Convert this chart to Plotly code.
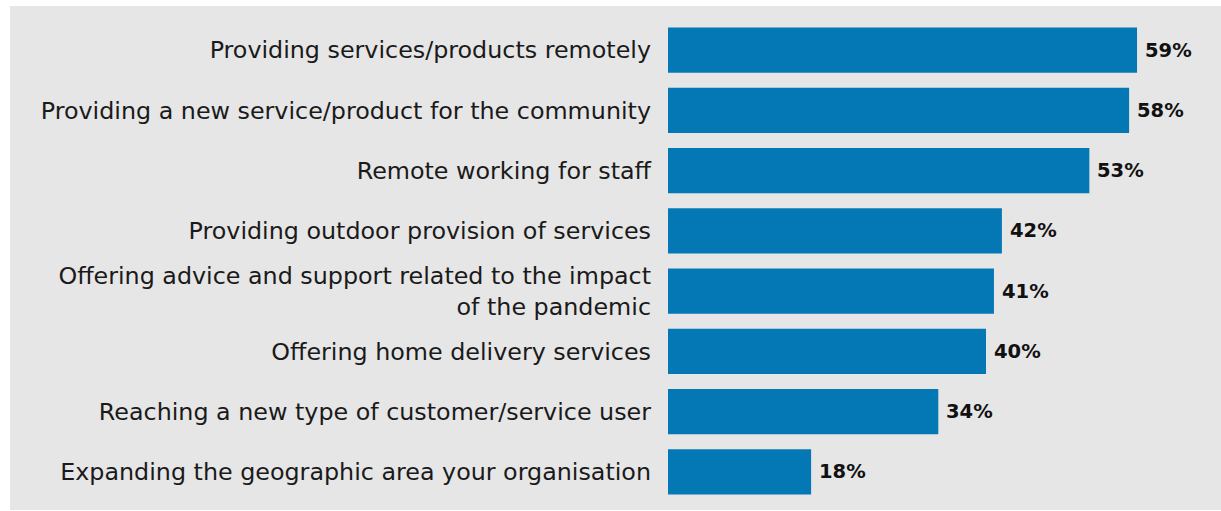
import plotly.graph_objects as go

categories = [
    "Providing services/products remotely",
    "Providing a new service/product for the community",
    "Remote working for staff",
    "Providing outdoor provision of services",
    "Offering advice and support related to the impact<br>of the pandemic",
    "Offering home delivery services",
    "Reaching a new type of customer/service user",
    "Expanding the geographic area your organisation",
]
values = [59, 58, 53, 42, 41, 40, 34, 18]
value_labels = [f"<b>{v}%</b>" for v in values]

W, H = 1221, 511
LEFT, RIGHT, TOP, BOTTOM = 668, 0, 20, 9
BAR_COLOR = "#0477b5"
PANEL = "#e6e6e6"
FONT = "DejaVu Sans"

fig = go.Figure(
    go.Bar(
        x=values,
        y=categories,
        orientation="h",
        marker=dict(color=BAR_COLOR, line=dict(width=0)),
        hoverinfo="skip",
    )
)

# value labels just to the right of each bar end
for cat, v, lab in zip(categories, values, value_labels):
    fig.add_annotation(
        x=v, y=cat, text=lab, showarrow=False,
        xanchor="left", yanchor="middle", xshift=6,
        font=dict(family=FONT, size=19.5, color="#111111"),
    )

plot_w = W - LEFT - RIGHT
fig.update_layout(
    width=W,
    height=H,
    margin=dict(l=LEFT, r=RIGHT, t=TOP, b=BOTTOM, pad=0),
    paper_bgcolor="white",
    plot_bgcolor="rgba(0,0,0,0)",
    bargap=0.25,
    showlegend=False,
    font=dict(family=FONT, size=23.8, color="#1a1a1a"),
    shapes=[
        dict(
            type="rect",
            xref="paper",
            yref="paper",
            x0=(10 - LEFT) / plot_w,
            x1=1.0,
            y0=-(510 - (H - BOTTOM)) / (H - TOP - BOTTOM),
            y1=1 + (TOP - 6) / (H - TOP - BOTTOM),
            fillcolor=PANEL,
            line=dict(width=0),
            layer="below",
        )
    ],
)
fig.update_xaxes(
    range=[0, plot_w / 7.95],
    visible=False,
    fixedrange=True,
)
fig.update_yaxes(
    autorange="reversed",
    showgrid=False,
    zeroline=False,
    showline=False,
    ticks="",
    ticklabelstandoff=16,
    tickfont=dict(family=FONT, size=23.8, color="#1a1a1a"),
    fixedrange=True,
)

fig.write_html("out.html", config={"displayModeBar": False})
